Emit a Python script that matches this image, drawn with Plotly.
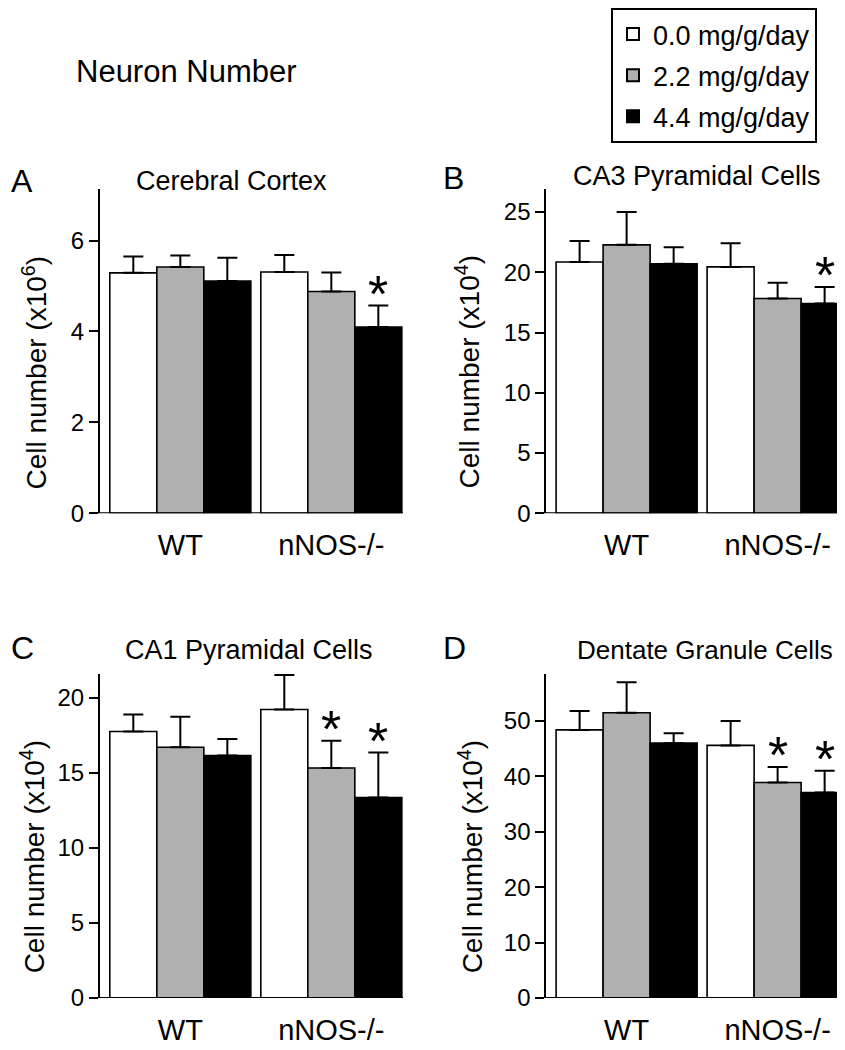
import plotly.graph_objects as go

# ---------------- data ----------------
groups = ["WT", "nNOS-/-"]
doses = ["0.0 mg/g/day", "2.2 mg/g/day", "4.4 mg/g/day"]
dose_colors = ["#ffffff", "#b0b0b0", "#000000"]

panel_letters = ["A", "B", "C", "D"]
panel_titles = ["Cerebral Cortex", "CA3 Pyramidal Cells", "CA1 Pyramidal Cells", "Dentate Granule Cells"]
y_titles = ["Cell number (x10<sup>6</sup>)", "Cell number (x10<sup>4</sup>)",
            "Cell number (x10<sup>4</sup>)", "Cell number (x10<sup>4</sup>)"]

# means[panel][dose] = [WT, nNOS-/-]
cortex_mean = [[5.29, 5.31], [5.42, 4.88], [5.11, 4.10]]
cortex_err = [[0.36, 0.37], [0.25, 0.42], [0.51, 0.47]]
ca3_mean = [[20.85, 20.44], [22.27, 17.82], [20.70, 17.41]]
ca3_err = [[1.75, 1.96], [2.73, 1.31], [1.38, 1.36]]
ca1_mean = [[17.76, 19.23], [16.71, 15.33], [16.16, 13.36]]
ca1_err = [[1.14, 2.30], [2.04, 1.82], [1.10, 3.00]]
dg_mean = [[48.4, 45.6], [51.5, 38.9], [46.0, 37.1]]
dg_err = [[3.4, 4.4], [5.5, 2.8], [1.8, 3.9]]
# significance flags [dose][group]
cortex_sig = [[0, 0], [0, 0], [0, 1]]
ca3_sig = [[0, 0], [0, 0], [0, 1]]
ca1_sig = [[0, 0], [0, 1], [0, 1]]
dg_sig = [[0, 0], [0, 1], [0, 1]]

cortex_ticks = [0, 2, 4, 6]
ca3_ticks = [0, 5, 10, 15, 20, 25]
ca1_ticks = [0, 5, 10, 15, 20]
dg_ticks = [0, 10, 20, 30, 40, 50]

means = [cortex_mean, ca3_mean, ca1_mean, dg_mean]
errs = [cortex_err, ca3_err, ca1_err, dg_err]
sigs = [cortex_sig, ca3_sig, ca1_sig, dg_sig]
ticks = [cortex_ticks, ca3_ticks, ca1_ticks, dg_ticks]
ymax = [7.14, 26.9, 21.6, 58.5]

# ---------------- layout helpers ----------------
W, H = 845, 1050
FONT = "Liberation Sans, Arial, Helvetica, sans-serif"


def px(x):
    return x / W


def py(y):
    return 1 - y / H


# pixel boxes: x0, x1, ytop, ybottom
boxes = [(92, 395, 183, 511.7), (538.3, 842, 183.3, 511.7),
         (92, 395, 674.3, 1002.3), (538.3, 842, 674.3, 1002.3)]
baseline_left = [83, 530, 83, 530]
title_pos = [(223, 175), (689, 170), (241, 650), (697, 650)]
title_size = [27, 27, 27, 26]
letter_pos = [(14, 175), (445, 172), (14, 648), (446, 648)]
ytitle_pos = [(27, 370), (460, 369), (25, 860), (463, 860)]

BARGAP = 0.066
UNIT = 151.0  # pixels per category
LEFT_PAD = 9.8

fig = go.Figure()
annotations = []
shapes = []

for p in range(4):
    x0, x1, yt, yb = boxes[p]
    ax = "" if p == 0 else str(p + 1)
    xa, ya = "x" + ax, "y" + ax
    for k in range(3):
        fig.add_trace(go.Bar(
            x=groups, y=means[p][k], name=doses[k],
            marker=dict(color=dose_colors[k], line=dict(color="black", width=1.6)),
            error_y=dict(type="data", symmetric=False, array=errs[p][k],
                         arrayminus=[0, 0], color="black", thickness=2, width=10),
            xaxis=xa, yaxis=ya, showlegend=(p == 0), legendgroup=doses[k],
        ))
        # significance stars
        w = (1 - BARGAP) / 3
        for g in range(2):
            if sigs[p][k][g]:
                annotations.append(dict(
                    x=g + (k - 1) * w, y=means[p][k][g] + errs[p][k][g],
                    xref=xa, yref=ya, text="*", showarrow=False,
                    yanchor="middle", yshift=12,
                    font=dict(family=FONT, size=52, color="black")))
    r0 = -(1 - BARGAP) / 2 - LEFT_PAD / UNIT
    r1 = r0 + (x1 - x0) / UNIT
    fig.layout["xaxis" + ax] = dict(
        domain=[px(x0), px(x1)], range=[r0, r1], anchor=ya,
        showline=False, ticks="", showgrid=False, zeroline=False,
        tickfont=dict(family=FONT, size=29, color="black"),
        ticklabelstandoff=12, fixedrange=True)
    fig.layout["yaxis" + ax] = dict(
        domain=[py(yb), py(yt)], range=[0, ymax[p]], anchor=xa,
        showline=True, linecolor="black", linewidth=2,
        ticks="outside", ticklen=9, tickwidth=2, tickcolor="black",
        tickvals=ticks[p], showgrid=False, zeroline=False,
        tickfont=dict(family=FONT, size=24, color="black"), fixedrange=True)
    shapes.append(dict(type="line", xref="paper", yref=ya,
                       x0=px(baseline_left[p]), x1=px(x1), y0=0, y1=0,
                       line=dict(color="black", width=2)))
    annotations.append(dict(x=px(title_pos[p][0]), y=py(title_pos[p][1]), xref="paper", yref="paper",
                            text=panel_titles[p], showarrow=False, xanchor="center", yanchor="middle",
                            font=dict(family=FONT, size=title_size[p], color="black")))
    annotations.append(dict(x=px(letter_pos[p][0]), y=py(letter_pos[p][1]), xref="paper", yref="paper",
                            text=panel_letters[p], showarrow=False, xanchor="center", yanchor="middle",
                            font=dict(family=FONT, size=32, color="black")))
    annotations.append(dict(x=px(ytitle_pos[p][0]), y=py(ytitle_pos[p][1]), xref="paper", yref="paper",
                            text=y_titles[p], showarrow=False, xanchor="center", yanchor="middle",
                            textangle=-90, font=dict(family=FONT, size=28, color="black")))

annotations.append(dict(x=px(178), y=py(64), xref="paper", yref="paper", text="Neuron Number",
                        showarrow=False, xanchor="center", yanchor="middle",
                        font=dict(family=FONT, size=31, color="black")))

fig.update_layout(
    width=W, height=H, margin=dict(l=0, r=0, t=0, b=0),
    paper_bgcolor="white", plot_bgcolor="white",
    barmode="group", bargap=BARGAP, bargroupgap=0,
    annotations=annotations, shapes=shapes,
    legend=dict(x=px(603), y=1.0, xanchor="left", yanchor="top",
                bordercolor="black", borderwidth=2, bgcolor="white",
                font=dict(family=FONT, size=27, color="black"),
                tracegroupgap=3, itemsizing="constant"),
)

fig.write_html("out.html")
